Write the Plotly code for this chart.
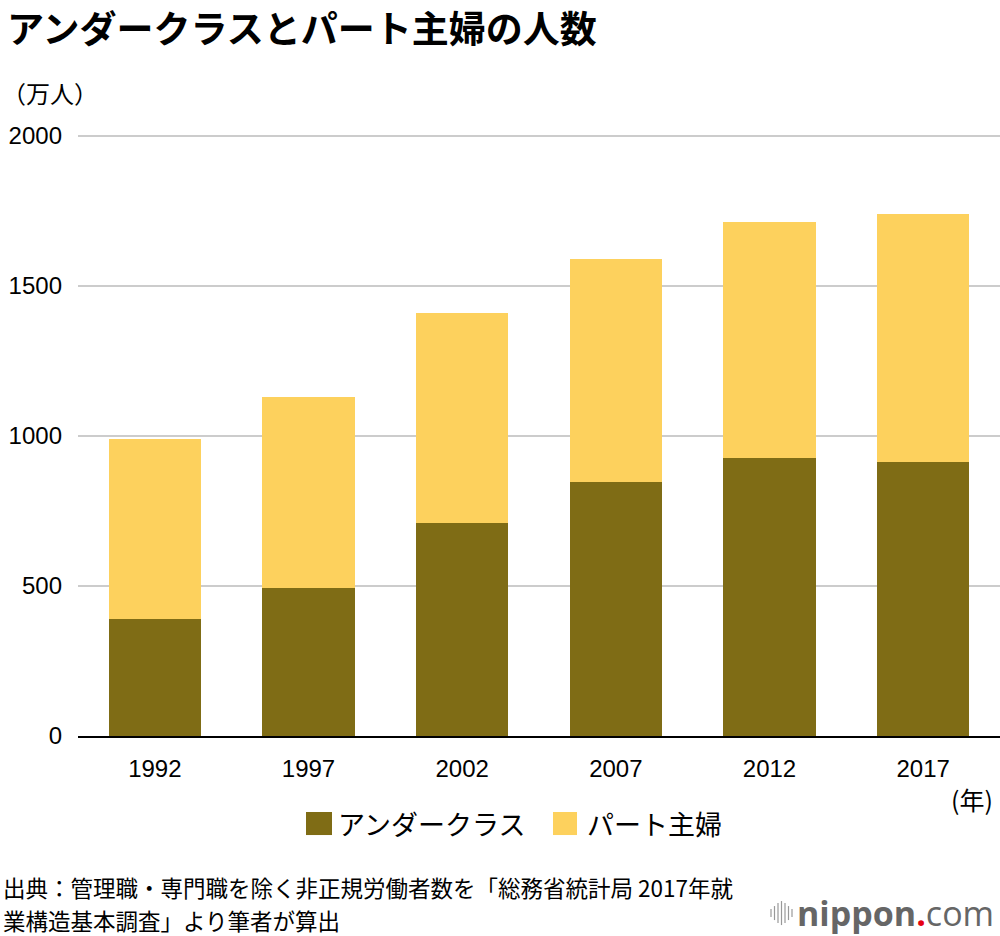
import plotly.graph_objects as go

years = ["1992", "1997", "2002", "2007", "2012", "2017"]
underclass = [391, 492, 709, 847, 928, 912]
part_total = [990, 1131, 1408, 1589, 1713, 1738]
part_wife = [t - u for t, u in zip(part_total, underclass)]

series_names = ["アンダークラス", "パート主婦"]
colors = ["#7F6C15", "#FDD15D"]
y_ticks = [0, 500, 1000, 1500, 2000]
y_max = 2006

W, H = 1000, 936
ZERO_Y, TOP_Y = 736, 136  # pixel of 0 and 2000
PH = (ZERO_Y - TOP_Y) * y_max / 2000
L, R = 78, 0
B = H - ZERO_Y
T = H - B - PH
PW = W - L - R


def px(x):
    return (x - L) / PW


def py(y):
    return (H - B - y) / PH


JP = "Noto Sans CJK JP"
NUM = "Liberation Sans, Arial, " + JP

fig = go.Figure()
fig.add_trace(go.Bar(x=years, y=underclass, name=series_names[0],
                     marker=dict(color=colors[0], line=dict(width=0))))
fig.add_trace(go.Bar(x=years, y=part_wife, name=series_names[1],
                     marker=dict(color=colors[1], line=dict(width=0))))


def ann(text, x, y, xanchor="left", size=22, weight=400, family=JP, color="#000", **kw):
    return dict(text=text, x=px(x), y=py(y), xref="paper", yref="paper", xanchor=xanchor,
                yanchor="middle", showarrow=False,
                font=dict(family=family, size=size, color=color, weight=weight), **kw)


annotations = [
    ann("アンダークラスとパート主婦の人数", 5, 27, size=37, weight=700),
    ann("（万人）", 0, 93, size=24),
    ann("(年)", 995, 799, xanchor="right", size=25),
    ann(series_names[0], 336, 823, size=27),
    ann(series_names[1], 585, 823, size=27),
    ann("出典：管理職・専門職を除く非正規労働者数を「総務省統計局 2017年就", 1, 887, size=22.5),
    ann("業構造基本調査」より筆者が算出", 1, 919.5, size=22.5),
    ann("<b>nippon</b><span style='color:#E60012'><b>.</b></span>com", 996, 913, xanchor="right",
        size=34, family="Open Sans, " + JP, color="#666"),
]

shapes = [
    dict(type="rect", xref="paper", yref="paper", x0=px(306), x1=px(332), y0=py(835), y1=py(812),
         fillcolor=colors[0], line=dict(width=0)),
    dict(type="rect", xref="paper", yref="paper", x0=px(553), x1=px(577), y0=py(835), y1=py(812),
         fillcolor=colors[1], line=dict(width=0)),
]
for i, h in enumerate([8, 14, 20, 24, 20, 14, 8]):
    xx = 771 + i * 3.5
    shapes.append(dict(type="line", xref="paper", yref="paper", x0=px(xx), x1=px(xx),
                       y0=py(913 - h / 2), y1=py(913 + h / 2), line=dict(color="#999", width=1.2)))

fig.update_layout(
    width=W, height=H,
    margin=dict(l=L, r=R, t=T, b=B, pad=0),
    paper_bgcolor="white", plot_bgcolor="white",
    barmode="stack", bargap=0.4,
    showlegend=False,
    annotations=annotations,
    shapes=shapes,
    font=dict(family=NUM, color="#000"),
    xaxis=dict(showgrid=False, showline=True, linecolor="#000", linewidth=2,
               ticks="", tickfont=dict(family=NUM, size=24, color="#000"),
               ticklabelstandoff=10),
    yaxis=dict(range=[0, y_max], tickvals=y_ticks, ticktext=[str(v) for v in y_ticks],
               showgrid=True, gridcolor="#CCCCCC", gridwidth=1.5, zeroline=False,
               showline=False, ticks="", tickfont=dict(family=NUM, size=24, color="#000"),
               ticklabelstandoff=15),
)

fig.write_html("out.html", config={"displayModeBar": False},
               post_script="document.body.style.margin='0';document.body.style.overflow='hidden';")
